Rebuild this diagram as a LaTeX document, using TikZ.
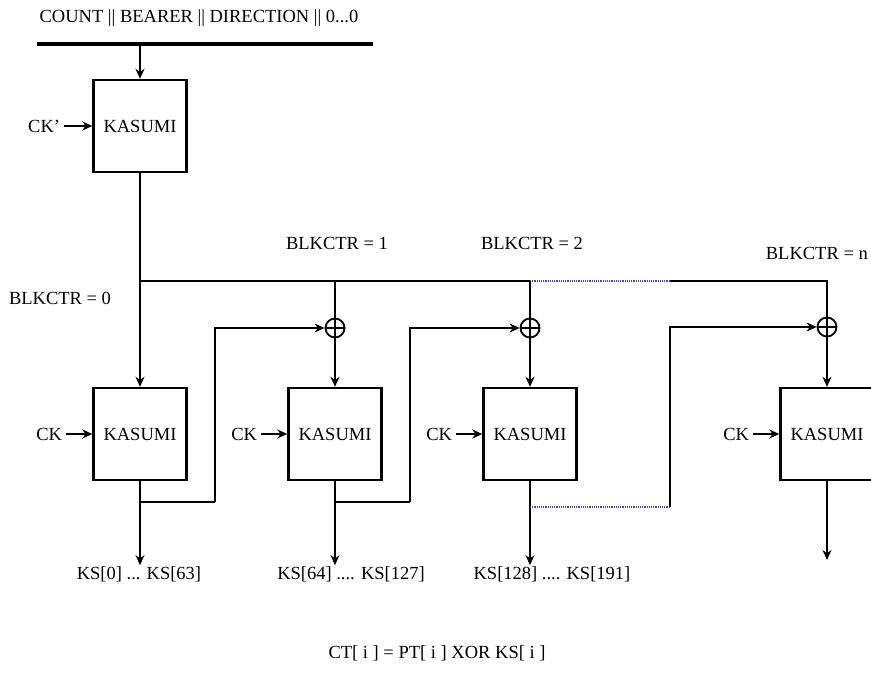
\documentclass[tikz,border=0pt]{standalone}
\usepackage{fontspec}
\setmainfont{Liberation Serif}
\usetikzlibrary{arrows, arrows.meta, positioning}
\tikzstyle{kasumi} = [rectangle, draw, line width=2.4pt, minimum width=93pt, minimum height=92pt, font=\fontsize{18.5}{22}\selectfont]
\tikzstyle{xorgate} = [circle, draw, line width=1.8pt, minimum size=19pt, inner sep=0pt, path picture={\draw[line width=1.8pt] (path picture bounding box.north) -- (path picture bounding box.south) (path picture bounding box.west) -- (path picture bounding box.east);}]
\tikzstyle{lbl} = [font=\fontsize{18.5}{22}\selectfont, inner sep=1pt]
\tikzstyle{arrow} = [line width=1.6pt,->,>={Stealth[length=10pt,width=9pt]}]
\tikzstyle{thinarrow} = [line width=1.1pt,->,>={Stealth[length=10pt,width=9pt]}]
\tikzstyle{bus} = [line width=2.6pt]
\tikzstyle{dots} = [line width=1.2pt, densely dotted, blue!45!gray]

\begin{document}
\begin{tikzpicture}[x=1pt, y=-1pt]
        \useasboundingbox (0,0) rectangle (871,684);
        % input block
        \node[lbl] (input) at (199,18) {COUNT || BEARER || DIRECTION || 0...0};
        \coordinate (barl) at (37,44);
        \coordinate (barr) at (373,44);
        \draw[line width=3.4pt] (barl) -- (barr);
        \node[kasumi] (k0) at (140,126) {KASUMI};
        \node[lbl, left=28pt of k0, inner xsep=4pt] (ckp) {CK'};
        \draw[arrow] (k0.north |- barl) -- (k0.north);
        \draw[arrow] (ckp) -- (k0);

        % keystream blocks
        \node[kasumi] (k1) at (140,434) {KASUMI};
        \node[kasumi] (k2) at (335,434) {KASUMI};
        \node[kasumi] (k3) at (530,434) {KASUMI};
        \node[kasumi] (k4) at (827,434) {KASUMI};
        \node[lbl, left=26pt of k1, inner xsep=4pt] (ck1) {CK};
        \node[lbl, left=26pt of k2, inner xsep=4pt] (ck2) {CK};
        \node[lbl, left=26pt of k3, inner xsep=4pt] (ck3) {CK};
        \node[lbl, left=26pt of k4, inner xsep=4pt] (ck4) {CK};
        \draw[arrow] (ck1) -- (k1);
        \draw[arrow] (ck2) -- (k2);
        \draw[arrow] (ck3) -- (k3);
        \draw[arrow] (ck4) -- (k4);

        \node[xorgate] (x1) at (335,328) {};
        \node[xorgate] (x2) at (530,328) {};
        \node[xorgate] (x4) at (827,327) {};

        % counter labels
        \node[lbl] (c0) at (60,298) {BLKCTR = 0};
        \node[lbl] (c1) at (337,243) {BLKCTR = 1};
        \node[lbl] (c2) at (532,243) {BLKCTR = 2};
        \node[lbl, anchor=east] (cn) at (869,253) {BLKCTR = n};

        % bus
        \coordinate (b0) at (140,281);
        \coordinate (gap) at (670,281);
        \draw[arrow, line width=2.4pt] (k0.south) -- (k1.north);
        \draw[bus] (b0) -- (x2.north |- b0);
        \draw[dots] (x2.north |- b0) -- (gap);
        \draw[bus] (gap) -- (x4.north |- gap) -- (x4.north);
        \draw[bus] (x1.north |- b0) -- (x1.north);
        \draw[bus] (x2.north |- b0) -- (x2.north);
        \draw[arrow] (x1.south) -- (k2.north);
        \draw[arrow] (x2.south) -- (k3.north);
        \draw[thinarrow] (x4.south) -- (k4.north);

        % outputs
        \node[lbl] (ks1) at (139,574) {KS[0] ... KS[63]};
        \node[lbl] (ks2) at (351,574) {KS[64] .... KS[127]};
        \node[lbl] (ks3) at (552,574) {KS[128] .... KS[191]};
        \coordinate (ks4) at (827,560);
        \draw[thinarrow] (k1.south) -- (k1.south |- ks1.north);
        \draw[arrow] (k2.south) -- (k2.south |- ks2.north);
        \draw[thinarrow] (k3.south) -- (k3.south |- ks3.north);
        \draw[thinarrow] (k4.south) -- (ks4);

        % feedback
        \coordinate (f1) at (140,502);
        \coordinate (r1) at (215,502);
        \coordinate (f2) at (335,502);
        \coordinate (r2) at (410,502);
        \coordinate (f3) at (530,507);
        \coordinate (r3) at (670,507);
        \draw[line width=2.2pt] (f1) -- (r1);
        \draw[thinarrow] (r1) |- (x1.west);
        \draw[line width=2.2pt] (f2) -- (r2);
        \draw[thinarrow] (r2) |- (x2.west);
        \draw[dots] (f3) -- (r3);
        \draw[thinarrow] (r3) |- (x4.west);

        \node[lbl] (ct) at (437,653) {CT[ i ] = PT[ i ] XOR KS[ i ]};
    \end{tikzpicture}
\end{document}
